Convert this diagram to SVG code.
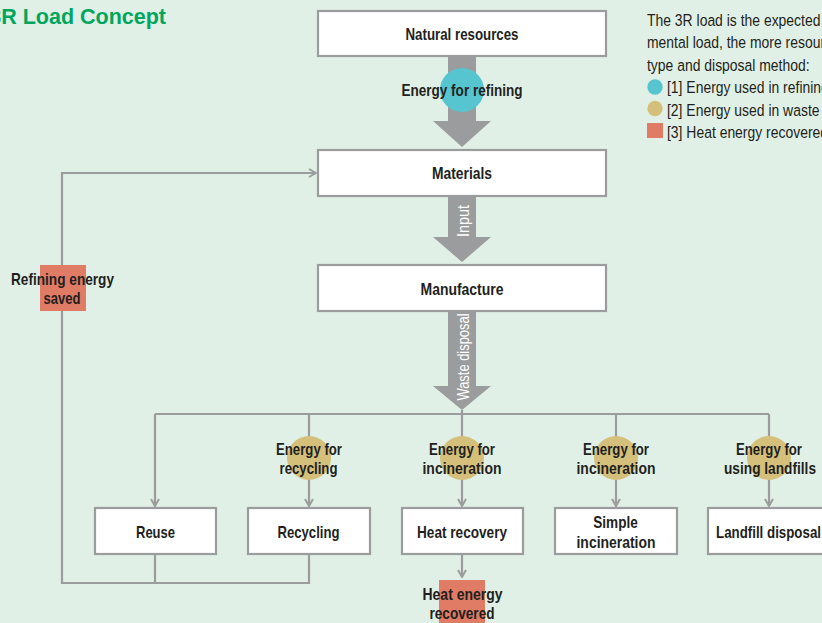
<svg xmlns="http://www.w3.org/2000/svg" width="822" height="623" viewBox="0 0 822 623">
<style>
.t{font-family:"Liberation Sans",Arial,sans-serif;fill:#231f20}
.b{font-weight:bold;font-size:17px;text-anchor:middle}
.n{font-size:17px}
.box{fill:#fff;stroke:#9a9c9e;stroke-width:2.2}
.ln{fill:none;stroke:#9a9c9e;stroke-width:2.2}
.big{fill:#9a9c9e}
.w{fill:#fff;font-size:16px;text-anchor:middle}
</style>
<defs>
<marker id="ch" viewBox="0 0 10 10" refX="9" refY="5" markerWidth="10" markerHeight="10" markerUnits="userSpaceOnUse" orient="auto">
<path d="M2,1 L9,5 L2,9" fill="none" stroke="#9a9c9e" stroke-width="2"/>
</marker>
</defs>
<rect width="822" height="623" fill="#e1f0e6"/>
<text x="166" y="24" font-family="Liberation Sans,Arial,sans-serif" font-weight="bold" font-size="21.5" fill="#00a65d" text-anchor="end">3R Load Concept</text>

<g id="legend" class="t n">
<text x="647" y="26" transform="matrix(0.82 0 0 1 116.46 0)">The 3R load is the expected e</text>
<text x="647" y="48.5" transform="matrix(0.82 0 0 1 116.46 0)">mental load, the more resour</text>
<text x="647" y="71" transform="matrix(0.82 0 0 1 116.46 0)">type and disposal method:</text>
<circle cx="655" cy="87" r="7.7" fill="#56c5d0"/>
<text x="667" y="93.5" transform="matrix(0.82 0 0 1 120.06 0)">[1] Energy used in refining</text>
<circle cx="655" cy="108.5" r="7.7" fill="#d4c07a"/>
<text x="667" y="116" transform="matrix(0.82 0 0 1 120.06 0)">[2] Energy used in waste c</text>
<rect x="647" y="123" width="16" height="15" fill="#e07b65"/>
<text x="667" y="138.5" transform="matrix(0.82 0 0 1 120.06 0)">[3] Heat energy recovered</text>
</g>

<g id="connectors">
<path class="big" d="M448,56 H476 V121 H491 L462,147 L433,121 H448 Z"/>
<path class="big" d="M448,196 H476 V237 H491 L462,262 L433,237 H448 Z"/>
<path class="big" d="M448,311 H476 V386 H491 L462,410 L433,386 H448 Z"/>
<path class="ln" d="M155,414 H769"/>
<path class="ln" d="M155,414 V506" marker-end="url(#ch)"/>
<path class="ln" d="M309,414 V506" marker-end="url(#ch)"/>
<path class="ln" d="M462,410 V506" marker-end="url(#ch)"/>
<path class="ln" d="M616,414 V506" marker-end="url(#ch)"/>
<path class="ln" d="M769,414 V506" marker-end="url(#ch)"/>
<path class="ln" d="M155,554 V583 M309,554 V583 H62 V173 H316" marker-end="url(#ch)"/>
<path class="ln" d="M462,554 V577" marker-end="url(#ch)"/>
</g>

<g id="energy-refining">
<circle cx="462" cy="90" r="22" fill="#56c5d0"/>
<text class="t b" x="462" y="96" textLength="121" lengthAdjust="spacingAndGlyphs">Energy for refining</text>
</g>
<g id="input-label"><text class="t w" transform="translate(469,221) rotate(-90)" textLength="32" lengthAdjust="spacingAndGlyphs">Input</text></g>
<g id="waste-label"><text class="t w" transform="translate(469,357) rotate(-90)" textLength="87" lengthAdjust="spacingAndGlyphs">Waste disposal</text></g>

<g id="natural-resources"><rect class="box" x="318" y="11" width="288" height="45"/><text class="t b" x="462" y="40" textLength="113" lengthAdjust="spacingAndGlyphs">Natural resources</text></g>
<g id="materials"><rect class="box" x="318" y="150" width="288" height="46"/><text class="t b" x="462" y="179" textLength="60" lengthAdjust="spacingAndGlyphs">Materials</text></g>
<g id="manufacture"><rect class="box" x="318" y="265" width="288" height="46"/><text class="t b" x="462" y="294.5" textLength="83" lengthAdjust="spacingAndGlyphs">Manufacture</text></g>

<g id="refining-saved">
<rect x="40" y="265" width="46" height="46" fill="#e07b65"/>
<text class="t b" x="62.5" y="285" textLength="103" lengthAdjust="spacingAndGlyphs">Refining energy</text>
<text class="t b" x="62" y="304" textLength="37" lengthAdjust="spacingAndGlyphs">saved</text>
</g>

<g id="e-recycling"><circle cx="309" cy="458" r="22" fill="#d4c07a"/><text class="t b" x="309" y="455" textLength="66" lengthAdjust="spacingAndGlyphs">Energy for</text><text class="t b" x="308.5" y="474" textLength="58" lengthAdjust="spacingAndGlyphs">recycling</text></g>
<g id="e-incin1"><circle cx="462" cy="458" r="22" fill="#d4c07a"/><text class="t b" x="462" y="455" textLength="66" lengthAdjust="spacingAndGlyphs">Energy for</text><text class="t b" x="462" y="474" textLength="79" lengthAdjust="spacingAndGlyphs">incineration</text></g>
<g id="e-incin2"><circle cx="616" cy="458" r="22" fill="#d4c07a"/><text class="t b" x="616" y="455" textLength="66" lengthAdjust="spacingAndGlyphs">Energy for</text><text class="t b" x="616" y="474" textLength="79" lengthAdjust="spacingAndGlyphs">incineration</text></g>
<g id="e-landfill"><circle cx="769" cy="458" r="22" fill="#d4c07a"/><text class="t b" x="769" y="455" textLength="66" lengthAdjust="spacingAndGlyphs">Energy for</text><text class="t b" x="770" y="474" textLength="92" lengthAdjust="spacingAndGlyphs">using landfills</text></g>

<g id="reuse"><rect class="box" x="95" y="508" width="121" height="46"/><text class="t b" x="155.5" y="537.5" textLength="39" lengthAdjust="spacingAndGlyphs">Reuse</text></g>
<g id="recycling"><rect class="box" x="248" y="508" width="122" height="46"/><text class="t b" x="308.5" y="537.5" textLength="62" lengthAdjust="spacingAndGlyphs">Recycling</text></g>
<g id="heat-recovery"><rect class="box" x="402" y="508" width="121" height="46"/><text class="t b" x="462" y="537.5" textLength="90" lengthAdjust="spacingAndGlyphs">Heat recovery</text></g>
<g id="simple-incineration"><rect class="box" x="555" y="508" width="122" height="46"/><text class="t b" x="615.5" y="527.5" textLength="44.5" lengthAdjust="spacingAndGlyphs">Simple</text><text class="t b" x="616" y="547.5" textLength="79" lengthAdjust="spacingAndGlyphs">incineration</text></g>
<g id="landfill"><rect class="box" x="708" y="508" width="122" height="46"/><text class="t b" x="768.5" y="537.5" textLength="105" lengthAdjust="spacingAndGlyphs">Landfill disposal</text></g>

<g id="heat-recovered">
<rect x="439" y="580" width="46" height="45" fill="#e07b65"/>
<text class="t b" x="462.5" y="600" textLength="80" lengthAdjust="spacingAndGlyphs">Heat energy</text>
<text class="t b" x="462" y="619" textLength="65" lengthAdjust="spacingAndGlyphs">recovered</text>
</g>
</svg>
